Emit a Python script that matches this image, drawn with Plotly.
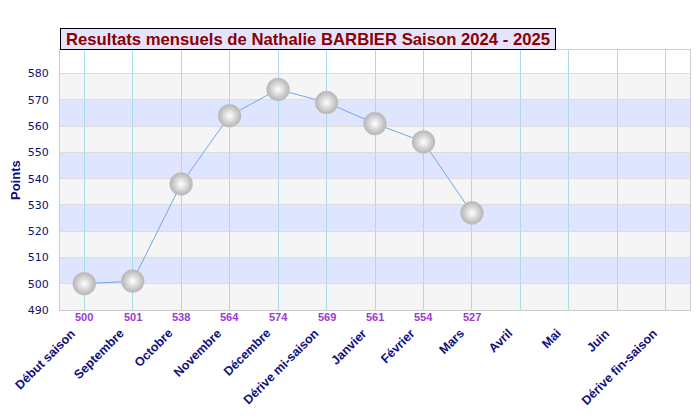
import plotly.graph_objects as go

categories = ["Début saison", "Septembre", "Octobre", "Novembre", "Décembre",
              "Dérive mi-saison", "Janvier", "Février", "Mars", "Avril", "Mai",
              "Juin", "Dérive fin-saison"]
points = [500, 501, 538, 564, 574, 569, 561, 554, 527]
y_min, y_max = 490, 589
band_starts = [500, 520, 540, 560]  # blue bands (10 pts each)
gray_starts = [490, 510, 530, 550, 570]

fig = go.Figure()

fig.add_trace(go.Scatter(
    x=categories[:len(points)], y=points, mode="lines+markers",
    line=dict(color="#6fa8ee", width=1),
    marker=dict(size=23, color="#b4b4b4",
                gradient=dict(type="radial", color="#ffffff"),
                line=dict(color="#c8c8c8", width=0.5)),
    hoverinfo="x+y", showlegend=False,
))

shapes = []
for s in band_starts:
    shapes.append(dict(type="rect", xref="paper", yref="y", x0=0, x1=1, y0=s, y1=s + 10,
                       fillcolor="#dfe5fe", line=dict(width=0), layer="below"))
for s in gray_starts:
    shapes.append(dict(type="rect", xref="paper", yref="y", x0=0, x1=1, y0=s, y1=s + 10,
                       fillcolor="#f5f5f5", line=dict(width=0), layer="below"))

annotations = []
for c, v in zip(categories, points):
    annotations.append(dict(x=c, y=0, xref="x", yref="paper", text="<b>" + str(v) + "</b>",
                            showarrow=False, yanchor="top", yshift=1,
                            font=dict(family="Arial", size=11, color="#9b3ad6")))

# rotated category labels
for c in categories:
    annotations.append(dict(x=c, y=0, xref="x", yref="paper", text="<b>" + c + "</b>",
                            showarrow=False, textangle=-45, xanchor="right", yanchor="top",
                            xshift=-4, yshift=-15, borderpad=0,
                            font=dict(family="Arial", size=12.5, color="#101080")))

annotations.append(dict(
    x=0, y=1, xref="paper", yref="paper", xanchor="left", yanchor="bottom",
    text="<b>Resultats mensuels de Nathalie BARBIER Saison 2024 - 2025</b>",
    showarrow=False, bgcolor="#e4e4fc", bordercolor="#000000", borderwidth=1,
    borderpad=1, width=492, height=18, align="center",
    font=dict(family="Arial", size=16.7, color="#8b0000"),
))

annotations.append(dict(
    x=-0.0714, y=0.5, xref="paper", yref="paper", xanchor="center", yanchor="middle",
    text="<b>Points</b>", showarrow=False, textangle=-90,
    font=dict(family="Arial", size=13, color="#101080"),
))

fig.update_layout(
    width=700, height=420,
    margin=dict(l=60, r=10, t=50, b=110),
    paper_bgcolor="white", plot_bgcolor="white",
    shapes=shapes, annotations=annotations,
    xaxis=dict(
        type="category", categoryorder="array", categoryarray=categories,
        range=[-0.5, len(categories) - 0.5], automargin=False,
        showgrid=True, gridcolor="#a8dbe8", gridwidth=1, showticklabels=False,
        ticks="", showline=True, linecolor="#cccccc", mirror=True, zeroline=False,
    ),
    yaxis=dict(
        range=[y_min, y_max], dtick=10, tick0=490, automargin=False,
        showgrid=True, gridcolor="#dddddd", gridwidth=1,
        tickfont=dict(family="DejaVu Sans", size=11, color="#101070"),
        showline=True, linecolor="#cccccc", mirror=True, zeroline=False,
        ticks="", ticklabelstandoff=8,
    ),
)

fig.write_html("out.html", post_script="document.body.style.margin='0';",
               config={"displayModeBar": False})
